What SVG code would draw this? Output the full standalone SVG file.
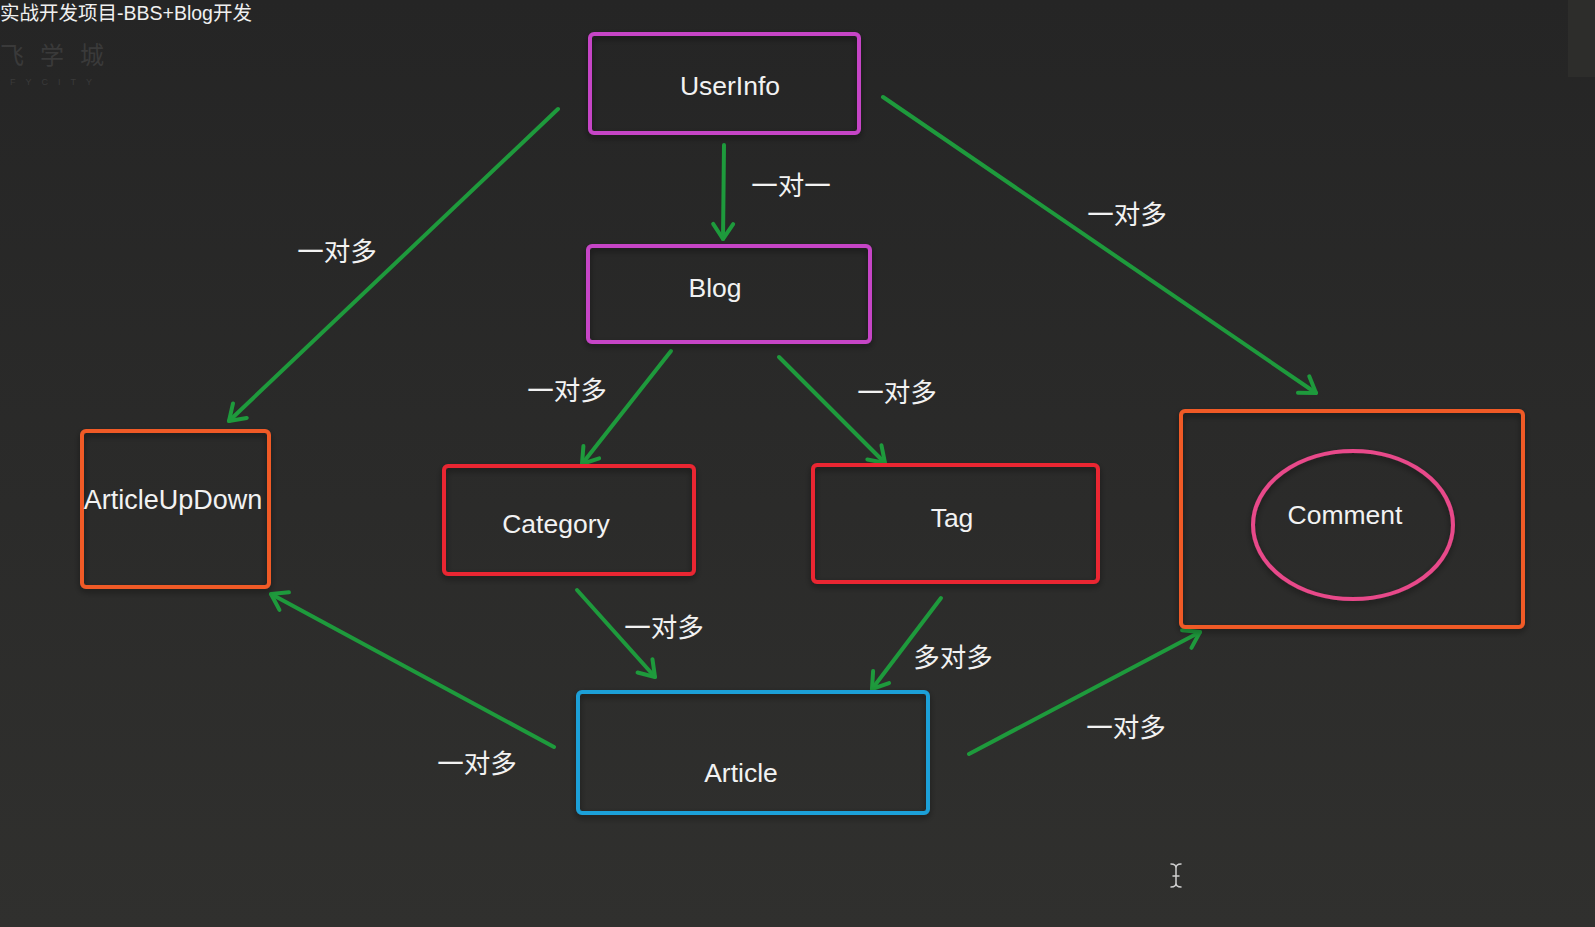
<svg xmlns="http://www.w3.org/2000/svg" width="1595" height="927" viewBox="0 0 1595 927">
<defs>
<linearGradient id="bg" x1="0" y1="0" x2="0" y2="1">
<stop offset="0" stop-color="#252525"/>
<stop offset="1" stop-color="#30302e"/>
</linearGradient>
<filter id="sh" x="-10%" y="-10%" width="120%" height="130%">
<feDropShadow dx="0" dy="3" stdDeviation="3" flood-color="#000" flood-opacity="0.45"/>
</filter>
<marker id="ah" markerUnits="userSpaceOnUse" viewBox="-20 -14 24 28" markerWidth="24" markerHeight="28" refX="0" refY="0" orient="auto" overflow="visible">
<path d="M-15,-10 L0,0 L-15,10" fill="none" stroke="#1e9a3c" stroke-width="4" stroke-linecap="round" stroke-linejoin="round"/>
</marker>
</defs>
<style>
.box{fill:none;stroke-width:4;filter:url(#sh)}
.lbl{font-family:"Liberation Sans","Noto Sans CJK SC",sans-serif;font-size:26.5px;fill:#f2f2f2;text-anchor:middle}
.rel{font-family:"Noto Sans CJK SC","Liberation Sans",sans-serif;font-size:26.5px;fill:#f2f2f2;text-anchor:middle}
.con line{stroke:#1e9a3c;stroke-width:4;stroke-linecap:round;marker-end:url(#ah)}
</style>
<rect x="0" y="0" width="1595" height="927" fill="url(#bg)"/>
<rect x="1568" y="0" width="27" height="77" fill="#2d2d2b"/>
<text x="0" y="20" font-family="Liberation Sans,'Noto Sans CJK SC',sans-serif" font-size="19.5" fill="#f0f0f0">实战开发项目-BBS+Blog开发</text>
<g id="watermark" fill="#3a3a3a">
<text x="0" y="64" font-family="'Noto Sans CJK SC',sans-serif" font-size="24" letter-spacing="16">飞学城</text>
<text x="10" y="85" font-family="Liberation Sans,sans-serif" font-size="9" letter-spacing="10">FYCITY</text>
</g>
<g id="connectors" class="con">
<line x1="724" y1="145" x2="723" y2="239"/>
<line x1="558" y1="109" x2="229" y2="421"/>
<line x1="883" y1="97" x2="1316" y2="393"/>
<line x1="671" y1="351" x2="582" y2="464"/>
<line x1="779" y1="357" x2="885" y2="463"/>
<line x1="577" y1="590" x2="655" y2="677"/>
<line x1="941" y1="598" x2="872" y2="689"/>
<line x1="554" y1="747" x2="271" y2="594"/>
<line x1="969" y1="754" x2="1200" y2="632"/>
</g>
<g id="labels">
<text class="rel" x="791" y="195">一对一</text>
<text class="rel" x="337" y="261">一对多</text>
<text class="rel" x="1127" y="224">一对多</text>
<text class="rel" x="567" y="400">一对多</text>
<text class="rel" x="897" y="402">一对多</text>
<text class="rel" x="664" y="637">一对多</text>
<text class="rel" x="953" y="667">多对多</text>
<text class="rel" x="477" y="773">一对多</text>
<text class="rel" x="1126" y="737">一对多</text>
</g>
<g id="UserInfo">
<rect class="box" x="590" y="34" width="269" height="99" rx="4" stroke="#c644c6"/>
<text class="lbl" x="730" y="95">UserInfo</text>
</g>
<g id="Blog">
<rect class="box" x="588" y="246" width="282" height="96" rx="4" stroke="#c644c6"/>
<text class="lbl" x="715" y="297">Blog</text>
</g>
<g id="ArticleUpDown">
<rect class="box" x="82" y="431" width="187" height="156" rx="4" stroke="#f05a28"/>
<text class="lbl" x="173" y="509" style="font-size:27px">ArticleUpDown</text>
</g>
<g id="Category">
<rect class="box" x="444" y="466" width="250" height="108" rx="4" stroke="#ea2630"/>
<text class="lbl" x="556" y="533">Category</text>
</g>
<g id="Tag">
<rect class="box" x="813" y="465" width="285" height="117" rx="4" stroke="#ea2630"/>
<text class="lbl" x="952" y="527">Tag</text>
</g>
<g id="Comment">
<rect class="box" x="1181" y="411" width="342" height="216" rx="4" stroke="#f05a28"/>
<ellipse class="box" cx="1353" cy="525" rx="100" ry="74" stroke="#e8498a"/>
<text class="lbl" x="1345" y="524">Comment</text>
</g>
<g id="Article">
<rect class="box" x="578" y="692" width="350" height="121" rx="4" stroke="#1ea0d8"/>
<text class="lbl" x="741" y="782">Article</text>
</g>
<g id="cursor" stroke="#cfcfcf" stroke-width="1.5" fill="none" stroke-linecap="round">
<path d="M1171,864 Q1176,864 1176,868 Q1176,864 1181,864 M1176,868 L1176,883 M1171,887 Q1176,887 1176,883 Q1176,887 1181,887 M1173,876 L1179,876"/>
</g>
</svg>
